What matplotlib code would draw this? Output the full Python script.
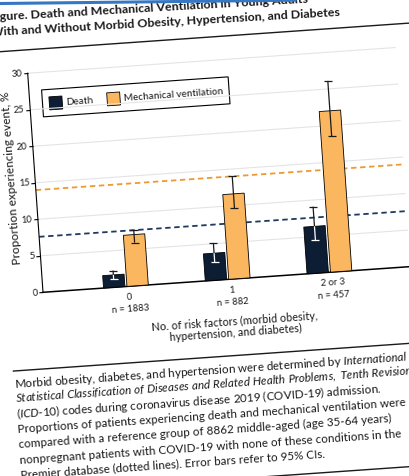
import matplotlib
matplotlib.use("Agg")
import matplotlib.pyplot as plt
from matplotlib.transforms import Affine2D
from matplotlib.patches import Rectangle
from matplotlib.markers import MarkerStyle
from matplotlib.lines import Line2D
from matplotlib.font_manager import FontProperties
import mpl_toolkits.axisartist.floating_axes as floating_axes
from mpl_toolkits.axisartist.grid_finder import FixedLocator, DictFormatter

# values (percent of patients)
groups = ["0", "1", "2 or 3"]
group_n = ["n = 1883", "n = 882", "n = 457"]
death = [1.7, 3.7, 6.4]
death_lo = [1.1, 2.5, 4.5]
death_hi = [2.3, 5.1, 9.1]
vent = [7.0, 11.6, 22.0]
vent_lo = [5.9, 9.6, 18.5]
vent_hi = [7.6, 14.0, 26.1]
ref_death = 7.6   # middle-aged reference group (dotted lines)
ref_vent = 14.0
yticks = [0, 5, 10, 15, 20, 25, 30]
legend_labels = ["Death", "Mechanical ventilation"]

title_lines = ["Figure. Death and Mechanical Ventilation in Young Adults",
               "With and Without Morbid Obesity, Hypertension, and Diabetes"]
xlabel_lines = ["No. of risk factors (morbid obesity,", "hypertension, and diabetes)"]
ylabel = "Proportion experiencing event, %"


def it(s):
    return r"$\mathit{" + s.replace(" ", r"\ ") + "}$"


caption_lines = [
    "Morbid obesity, diabetes, and hypertension were determined by " + it("International"),
    it("Statistical Classification of Diseases and Related Health Problems, Tenth Revision"),
    it("(ICD") + "-" + it("10)") + " codes during coronavirus disease 2019 (COVID-19) admission.",
    "Proportions of patients experiencing death and mechanical ventilation were",
    "compared with a reference group of 8862 middle-aged (age 35-64 years)",
    "nonpregnant patients with COVID-19 with none of these conditions in the",
    "Premier database (dotted lines). Error bars refer to 95% CIs.",
]

NAVY = "#0d1d33"
ORANGE = "#fbb660"
INK = "#1a1a1a"
FONT = "Lato"

W, H = 410, 476
ANGLE = 4.0          # the printed page is photographed slightly tilted
PX, PY = 102, 7.32   # pixels per category / per percentage point
XMIN, XMAX = -0.815, 2.8

plt.rcParams["font.family"] = FONT
plt.rcParams["mathtext.fontset"] = "custom"
plt.rcParams["mathtext.rm"] = FONT
plt.rcParams["mathtext.it"] = FONT + ":italic"

fig = plt.figure(figsize=(W / 100, H / 100), dpi=100)
renderer = fig.canvas.get_renderer()


def fit(s, target_px, weight="normal"):
    # font size (pt) that makes s span target_px, the width it has on the page
    w, _, _ = renderer.get_text_width_height_descent(s, FontProperties(family=FONT, weight=weight, size=10), ismath=False)
    return 10 * target_px / w


title_fs = fit(title_lines[1], 350, "bold")
caption_fs = fit(caption_lines[3], 386)
xlabel_fs = fit(xlabel_lines[0], 165)
ylabel_fs = fit(ylabel, 172)
legend_fs = fit(legend_labels[1], 99)
tick_fs = fit(group_n[0], 37)

tr = Affine2D().scale(PX, PY).rotate_deg(ANGLE)
xpos = list(range(len(groups)))
helper = floating_axes.GridHelperCurveLinear(
    tr, extremes=(XMIN, XMAX, yticks[0], yticks[-1]),
    grid_locator1=FixedLocator(xpos),
    grid_locator2=FixedLocator(yticks),
    tick_formatter2=DictFormatter({t: str(t) for t in yticks}))
ax = fig.add_axes([0, 0, 1, 1], axes_class=floating_axes.FloatingAxes, grid_helper=helper)

# host axes in pixel units, chart origin placed where it sits on the page
corner = tr.transform((XMIN, 0))
ax.set_xlim(corner[0] - 43, corner[0] - 43 + W)
ax.set_ylim(corner[1] - 183.7, corner[1] - 183.7 + H)
page = Affine2D().rotate_deg(ANGLE).translate(*corner) + ax.transData
aux = ax.get_aux_axes(tr)

ax.axis["top"].set_visible(False)
ax.axis["right"].set_visible(False)
left = ax.axis["left"]
left.line.set_linewidth(0.8)
left.major_ticks.set_ticksize(3)
left.major_ticks.set_tick_out(True)
left.major_ticklabels.set(fontsize=tick_fs, color=INK)
left.major_ticklabels.set_pad(1)
bottom = ax.axis["bottom"]
bottom.line.set_linewidth(1.1)
bottom.major_ticks.set_visible(False)
bottom.major_ticklabels.set_visible(False)

# grid and reference lines
aux.hlines(yticks[1:], XMIN, XMAX, colors="#e4e4e4", lw=0.8, zorder=1)
aux.hlines([ref_death], XMIN, XMAX, colors="#22395f", linestyles=(0, (3, 2)), lw=1.3, zorder=2)
aux.hlines([ref_vent], XMIN, XMAX, colors="#ee9a30", linestyles=(0, (3, 2)), lw=1.3, zorder=2)

bw = 0.21
xd = [i - 0.115 for i in xpos]
xv = [i + 0.115 for i in xpos]
aux.bar(xd, death, width=bw, color=NAVY, edgecolor="black", lw=0.6, zorder=3)
aux.bar(xv, vent, width=bw, color=ORANGE, edgecolor="black", lw=0.6, zorder=3)

cap = MarkerStyle("_", transform=Affine2D().rotate_deg(ANGLE))
aux.vlines(xv, vent_lo, vent_hi, colors=INK, lw=0.9, zorder=4)
aux.plot(xv, vent_lo, ls="none", marker=cap, ms=6, mew=0.9, color=INK, zorder=4)
aux.plot(xv, vent_hi, ls="none", marker=cap, ms=6, mew=0.9, color=INK, zorder=4)
aux.vlines(xd, death, death_hi, colors=INK, lw=0.9, zorder=4)
aux.plot(xd, death_hi, ls="none", marker=cap, ms=6, mew=0.9, color=INK, zorder=4)
aux.vlines(xd, death_lo, death, colors="white", lw=0.9, zorder=4)
aux.plot(xd, death_lo, ls="none", marker=cap, ms=6, mew=0.9, color="white", zorder=4)

# category labels under each group
for x, g, n in zip(xpos, groups, group_n):
    u = (x - XMIN) * PX + 3
    ax.text(u, -11, g, transform=page, rotation=ANGLE, rotation_mode="anchor",
            ha="center", va="center", fontsize=tick_fs, color=INK)
    ax.text(u, -23, n, transform=page, rotation=ANGLE, rotation_mode="anchor",
            ha="center", va="center", fontsize=tick_fs, color=INK)

# legend box (drawn by hand so it tilts with the page)
ax.add_patch(Rectangle((12.7, 175), 187, 27, transform=page, fill=False, ec="black", lw=0.8, clip_on=False))
for (u, col), lab in zip([(19.5, NAVY), (77.4, ORANGE)], legend_labels):
    ax.add_patch(Rectangle((u, 181.5), 13, 13, transform=page, fc=col, ec="black", lw=0.6, clip_on=False))
    ax.text(u + 16.5, 188, lab, transform=page, rotation=ANGLE, rotation_mode="anchor",
            ha="left", va="center", fontsize=legend_fs, color=INK)

# axis titles
ax.text(-23.5, 116, ylabel, transform=page, rotation=90 + ANGLE,
        rotation_mode="anchor", ha="center", va="center", fontsize=ylabel_fs, color=INK)
for k, line in enumerate(xlabel_lines):
    ax.text(189, -42.6 - 11.6 * k, line, transform=page, rotation=ANGLE, rotation_mode="anchor",
            ha="center", va="center", fontsize=xlabel_fs, color=INK)

# page furniture: title, rules and caption
fig.add_artist(Line2D([0, 295 / W], [1 - 3.5 / H, 1 - 0.2 / H], transform=fig.transFigure,
                      color="#3577c2", lw=2.2))
for k, line in enumerate(title_lines):
    ax.text(-34, 274 - 14.2 * k, line, transform=page, rotation=ANGLE - 0.7, rotation_mode="anchor",
            ha="left", va="baseline", fontsize=title_fs, fontweight="bold", color=INK)
ax.plot([-35, 440], [243, 243], transform=page, color=INK, lw=1.0, clip_on=False)
ax.plot([-35, 440], [-76.5, -76.5], transform=page, color=INK, lw=1.0, clip_on=False)
for k, line in enumerate(caption_lines):
    ax.text(-34.7, -93.2 - 15.2 * k, line, transform=page, rotation=ANGLE, rotation_mode="anchor",
            ha="left", va="baseline", fontsize=caption_fs, color=INK)
ax.plot([-35, 440], [-199.5, -199.5], transform=page, color=INK, lw=1.0, clip_on=False)

fig.savefig("out.png", dpi=100)
